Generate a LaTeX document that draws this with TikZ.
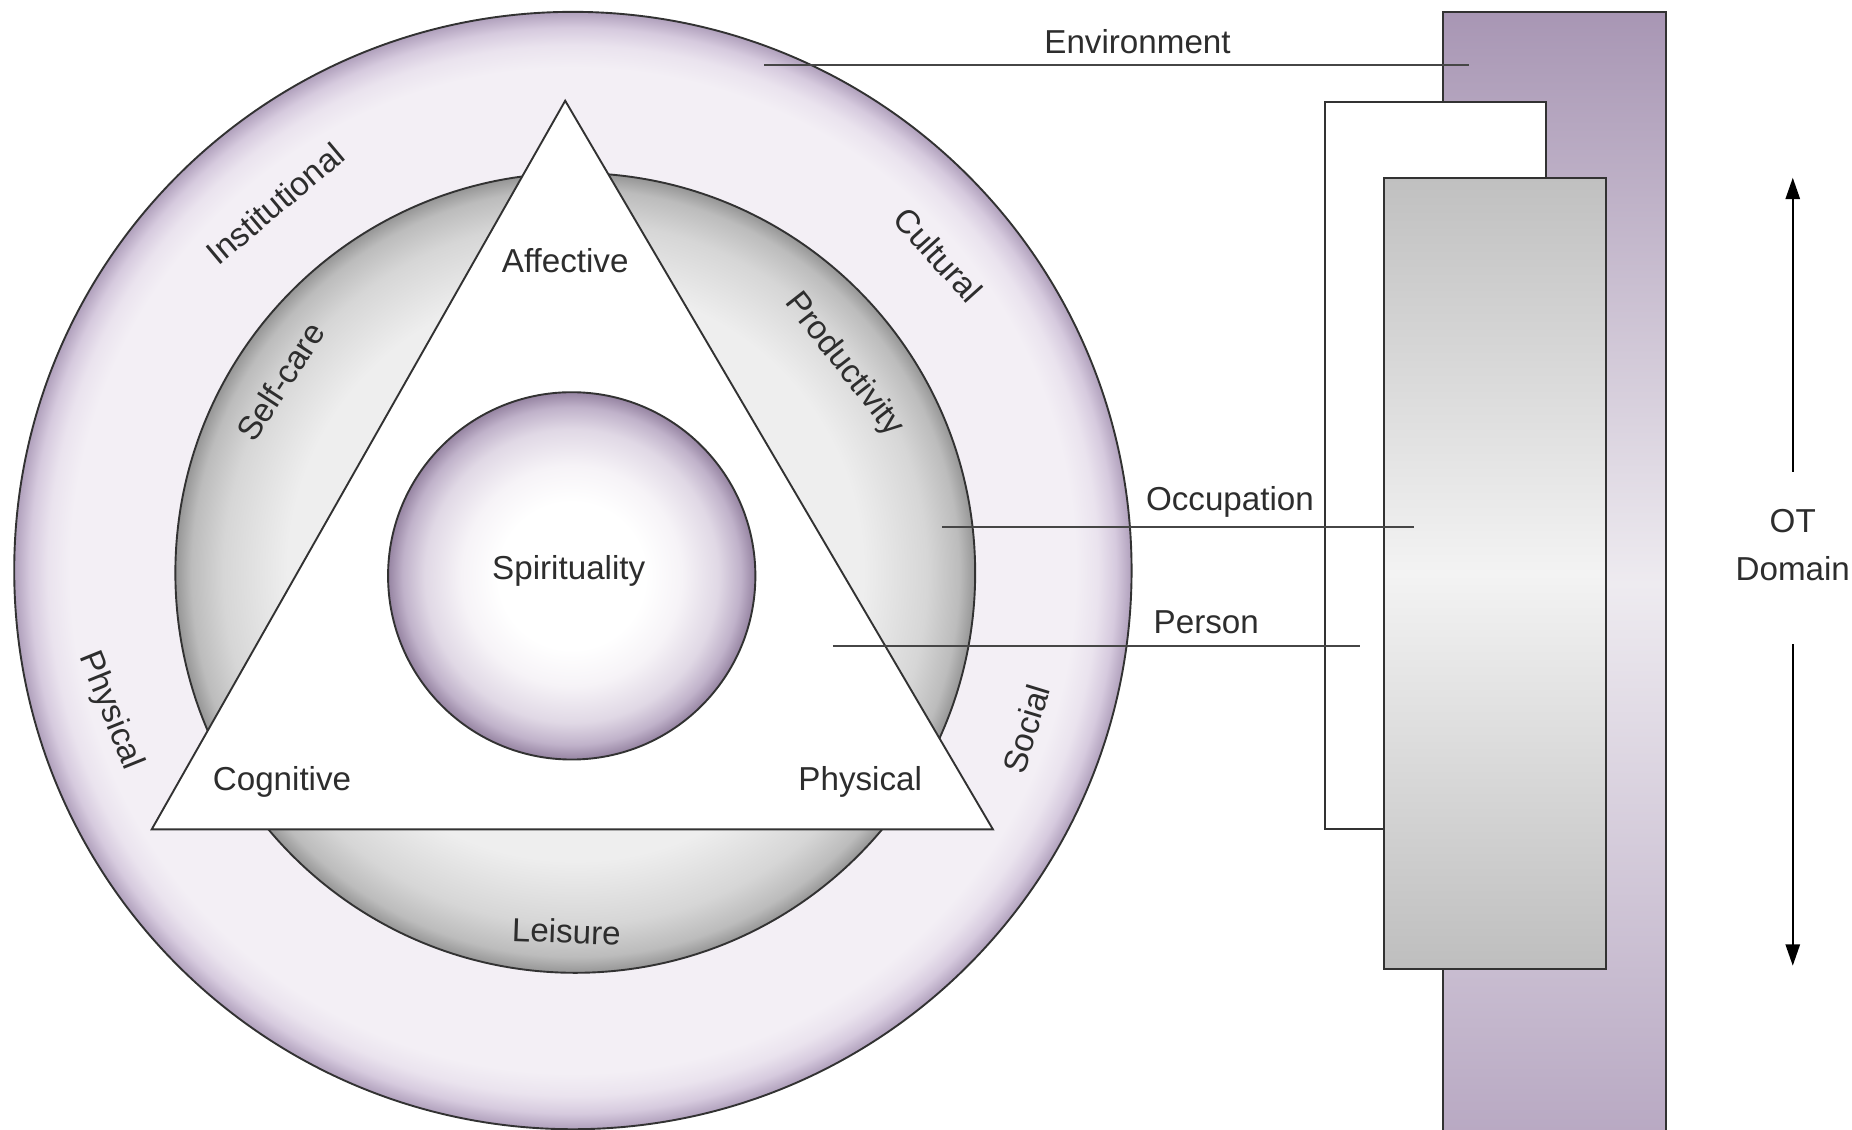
\documentclass[tikz,border=0pt]{standalone}
\usepackage{fontspec}
\setmainfont{Liberation Sans}
\usetikzlibrary{arrows.meta}

\definecolor{linegray}{RGB}{50,50,50}
\definecolor{leadergray}{RGB}{70,70,70}
\definecolor{labeltext}{RGB}{45,45,45}
\definecolor{envedge}{RGB}{176,160,188}
\definecolor{envshade}{RGB}{214,202,222}
\definecolor{envmid}{RGB}{234,227,238}
\definecolor{envlight}{RGB}{243,239,245}
\definecolor{occedge}{RGB}{150,150,150}
\definecolor{occshade}{RGB}{188,188,188}
\definecolor{occmid}{RGB}{214,214,214}
\definecolor{occlight}{RGB}{238,238,238}
\definecolor{spiredge}{RGB}{150,132,162}
\definecolor{spirshade}{RGB}{192,178,202}
\definecolor{spirmid}{RGB}{224,216,229}
\definecolor{spirsoft}{RGB}{246,243,247}
\definecolor{envtop}{RGB}{168,150,180}
\definecolor{envcentre}{RGB}{238,235,240}
\definecolor{envbottom}{RGB}{182,166,193}
\definecolor{occtop}{RGB}{192,192,192}
\definecolor{occcentre}{RGB}{243,243,243}
\definecolor{occbottom}{RGB}{190,190,190}

\pgfdeclareradialshading{envring}{\pgfpointorigin}{color(0bp)=(envlight); color(22.5bp)=(envlight); color(23.5bp)=(envmid); color(24.3bp)=(envshade); color(25bp)=(envedge); color(50bp)=(envedge)}
\pgfdeclareradialshading{occring}{\pgfpointorigin}{color(0bp)=(occlight); color(18bp)=(occlight); color(22bp)=(occmid); color(24bp)=(occshade); color(25bp)=(occedge); color(50bp)=(occedge)}
\pgfdeclareradialshading{spirball}{\pgfpointorigin}{color(0bp)=(white); color(10bp)=(white); color(15bp)=(spirsoft); color(20bp)=(spirmid); color(23bp)=(spirshade); color(25bp)=(spiredge); color(50bp)=(spiredge)}

\tikzset{
  ringline/.style={draw=linegray, line width=0.8pt},
  lbl/.style={text=labeltext, inner sep=0.75pt, font=\fontsize{14}{17}\selectfont},
  leader/.style={draw=leadergray, line width=1pt},
  otarrow/.style={draw=black, line width=0.9pt, -{Triangle[length=9pt,width=6pt]}},
}

\begin{document}
\begin{tikzpicture}[x=0.5pt,y=0.5pt,yscale=-1,xscale=1]
    \useasboundingbox (0,0) rectangle (1563,953);

    %Shape: Circle [environment]
    \draw [ringline, shade, shading=envring] (483.5,481.5) circle (471.5);
    %Shape: Circle [occupation]
    \draw [ringline, shade, shading=occring] (485.5,483.5) circle (337.5);
    %Shape: Triangle [person]
    \draw [ringline, fill=white] (477,85) -- (838,700) -- (128,700) -- cycle;
    %Shape: Circle [spirituality]
    \draw [ringline, shade, shading=spirball] (482.5,486) circle (155);

    %Shape: Rectangle [environment]
    \draw [ringline, top color=envtop, bottom color=envbottom, middle color=envcentre] (1218,10) rectangle (1406,975);
    %Shape: Rectangle [person]
    \draw [ringline, fill=white] (1118,86) rectangle (1305,700);
    %Shape: Rectangle [occupation]
    \draw [ringline, top color=occtop, bottom color=occbottom, middle color=occcentre] (1168,150) rectangle (1355,818);

    % Text Node
    \node [lbl] (spirituality) at (480,482) {Spirituality};
    \node [lbl] (affective) at (477,220) {Affective};
    \node [lbl] (cognitive) at (238,660) {Cognitive};
    \node [lbl] (physicalp) at (726,660) {Physical};
    \node [lbl, rotate=57] (selfcare) at (237,322) {Self-care};
    \node [lbl, rotate=-52] (productivity) at (712,308) {Productivity};
    \node [lbl, rotate=-2] (leisure) at (478,786) {Leisure};
    \node [lbl, rotate=40] (institutional) at (232,172) {Institutional};
    \node [lbl, rotate=-48] (cultural) at (792,215) {Cultural};
    \node [lbl, rotate=-68] (physicale) at (93,600) {Physical};
    \node [lbl, rotate=73] (social) at (866,615) {Social};

    % Leader lines
    \node [lbl] (environment) at (960,35) {Environment};
    \coordinate (envA) at (645,55);
    \coordinate (envB) at (1240,55);
    \draw [leader] (envA) -- (envB);
    \node [lbl] (occupation) at (1038,424) {Occupation};
    \coordinate (occA) at (795,445);
    \coordinate (occB) at (1193,445);
    \draw [leader] (occA) -- (occB);
    \node [lbl] (person) at (1018,525) {Person};
    \coordinate (perA) at (703,545);
    \coordinate (perB) at (1148,545);
    \draw [leader] (perA) -- (perB);

    % OT domain
    \node [lbl, align=center, font=\fontsize{14}{20}\selectfont] (otdomain) at (1513,460) {OT\\Domain};
    \coordinate (ottop) at (1513,150);
    \coordinate (otbot) at (1513,815);
    \draw [otarrow, shorten <=15pt] (otdomain.north) -- (ottop);
    \draw [otarrow, shorten <=26pt] (otdomain.south) -- (otbot);

\end{tikzpicture}
\end{document}
